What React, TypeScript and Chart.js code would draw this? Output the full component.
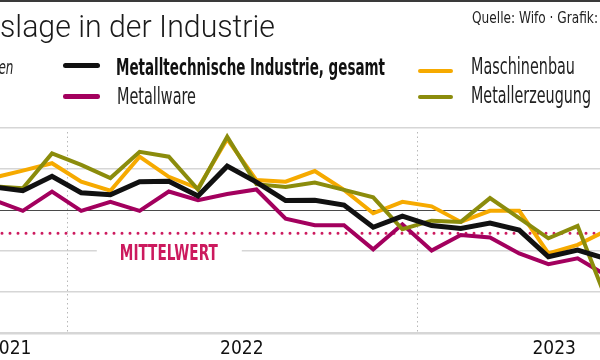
import React, { useEffect, useLayoutEffect, useRef } from "react";
import { Chart, registerables } from "chart.js";

Chart.register(...registerables);

// ---------- data ----------
const months = [
  "Okt 2021", "Nov 2021", "Dez 2021",
  "Jän 2022", "Feb 2022", "Mär 2022", "Apr 2022", "Mai 2022", "Jun 2022",
  "Jul 2022", "Aug 2022", "Sep 2022", "Okt 2022", "Nov 2022", "Dez 2022",
  "Jän 2023", "Feb 2023", "Mär 2023", "Apr 2023", "Mai 2023", "Jun 2023", "Jul 2023",
];
const gesamt = [5.6, 4.7, 8.2, 4.2, 3.7, 6.9, 7.0, 3.4, 10.7, 6.8, 2.3, 2.4, 1.2, -4.2, -1.5, -3.8, -4.5, -3.2, -4.9, -11.4, -9.8, -11.9];
const metallware = [2.4, -0.2, 4.5, -0.2, 2.0, -0.2, 4.5, 2.4, 3.9, 5.0, -2.1, -3.7, -3.7, -9.6, -3.5, -9.9, -6.1, -6.7, -10.6, -13.2, -11.8, -16.0];
const maschinenbau = [7.9, 9.6, 11.4, 6.9, 4.7, 13.0, 8.1, 5.3, 17.3, 7.3, 6.9, 9.5, 4.9, -0.8, 2.0, 0.9, -2.9, -0.2, -0.2, -10.6, -8.5, -5.0];
const metallerzeugung = [5.8, 5.3, 13.8, 11.0, 7.8, 14.2, 13.0, 5.0, 17.9, 6.3, 5.6, 6.7, 4.9, 3.1, -4.7, -2.6, -2.9, 2.9, -2.0, -6.9, -3.9, -22.1];

const yearLabels = ["2021", "2022", "2023"];
const yearLabelPos = [0.55, 8.5, 19.2];
const yearBoundaries = [2.5, 14.5];
const yTicks = [-30, -20, -10, 0, 10, 20];
const MEAN = -5.7;
const MEAN_LABEL = "MITTELWERT";
const MEAN_LABEL_X = 6;
const MEAN_LABEL_Y = -10.5;

// ---------- style ----------
const FONT = "'Liberation Sans Narrow', 'DejaVu Sans Condensed', 'Liberation Sans', sans-serif";
const C_BLACK = "#111111";
const C_MAGENTA = "#A3005E";
const C_ORANGE = "#F6AA00";
const C_OLIVE = "#8B8C0C";
const C_MEAN = "#CC1A5E";

type FitProps = {
  text: string;
  left?: number;
  right?: number;
  baseline: number;
  size: number;
  width: number;
  weight?: number | string;
  italic?: boolean;
  family?: string;
  color?: string;
};

function FitText({ text, left, right, baseline, size, width, weight = 400, italic = false, family = FONT, color = "#111" }: FitProps) {
  const ref = useRef<HTMLSpanElement>(null);
  useLayoutEffect(() => {
    const el = ref.current;
    if (!el) return;
    const fit = () => {
      el.style.transform = "none";
      const w = el.getBoundingClientRect().width;
      if (w > 0) el.style.transform = `scaleX(${width / w})`;
    };
    fit();
    if ((document as any).fonts && (document as any).fonts.ready) {
      (document as any).fonts.ready.then(fit);
    }
  }, [text, width]);
  const style: React.CSSProperties = {
    position: "absolute",
    top: baseline - 0.8465 * size,
    fontFamily: family,
    fontSize: size,
    lineHeight: `${size}px`,
    fontWeight: weight as any,
    fontStyle: italic ? "italic" : "normal",
    color,
    whiteSpace: "nowrap",
    display: "inline-block",
    transformOrigin: right !== undefined ? "right center" : "left center",
  };
  if (right !== undefined) style.right = 600 - right;
  else style.left = left;
  return (
    <span ref={ref} style={style}>
      {text}
    </span>
  );
}

function Swatch({ x1, x2, yc, h, color }: { x1: number; x2: number; yc: number; h: number; color: string }) {
  return (
    <div
      style={{
        position: "absolute",
        left: x1,
        top: yc - h / 2,
        width: x2 - x1,
        height: h,
        background: color,
        borderRadius: h / 2,
      }}
    />
  );
}

const overlayPlugin = {
  id: "overlay",
  beforeDatasetsDraw(chart: any) {
    const { ctx, chartArea, scales } = chart;
    const x = scales.x;
    const y = scales.y;
    ctx.save();
    // year boundaries
    ctx.strokeStyle = "#b8b8b8";
    ctx.lineWidth = 1;
    ctx.setLineDash([1.5, 3]);
    for (const b of yearBoundaries) {
      const px = Math.round(x.getPixelForValue(b)) + 0.5;
      ctx.beginPath();
      ctx.moveTo(px, chartArea.top + 4);
      ctx.lineTo(px, chartArea.bottom);
      ctx.stroke();
    }
    // white box behind label
    const lx = x.getPixelForValue(MEAN_LABEL_X);
    const ly = y.getPixelForValue(MEAN_LABEL_Y);
    ctx.fillStyle = "#ffffff";
    ctx.fillRect(lx - 72, ly - 11, 145, 22);
    // mean dotted line
    const my = y.getPixelForValue(MEAN);
    ctx.setLineDash([0, 8]);
    ctx.lineCap = "round";
    ctx.lineWidth = 3;
    ctx.strokeStyle = C_MEAN;
    ctx.beginPath();
    ctx.moveTo(chartArea.left + 2, my);
    ctx.lineTo(chartArea.right, my);
    ctx.stroke();
    // label
    ctx.setLineDash([]);
    ctx.font = `bold 22px ${FONT}`;
    const w = ctx.measureText(MEAN_LABEL).width;
    const sx = 98 / w;
    ctx.translate(lx, ly);
    ctx.scale(sx, 1);
    ctx.fillStyle = C_MEAN;
    ctx.textAlign = "center";
    ctx.textBaseline = "middle";
    ctx.fillText(MEAN_LABEL, 0, 1);
    ctx.restore();
  },
};

export default function App() {
  const canvasRef = useRef<HTMLCanvasElement>(null);

  useEffect(() => {
    const canvas = canvasRef.current;
    if (!canvas) return;
    const toPts = (arr: number[]) => arr.map((v, i) => ({ x: i, y: v }));
    const chart = new Chart(canvas, {
      type: "line",
      data: {
        labels: months,
        datasets: [
          { label: "Metalltechnische Industrie, gesamt", data: toPts(gesamt), borderColor: C_BLACK, borderWidth: 5, order: 0 },
          { label: "Metallerzeugung", data: toPts(metallerzeugung), borderColor: C_OLIVE, borderWidth: 4, order: 1 },
          { label: "Maschinenbau", data: toPts(maschinenbau), borderColor: C_ORANGE, borderWidth: 4, order: 2 },
          { label: "Metallware", data: toPts(metallware), borderColor: C_MAGENTA, borderWidth: 4, order: 3 },
        ] as any,
      },
      options: {
        animation: false,
        responsive: false,
        devicePixelRatio: 1,
        layout: { padding: { top: 128, left: 0, right: 0, bottom: 0 }, autoPadding: false } as any,
        elements: {
          point: { radius: 0, hoverRadius: 0 },
          line: { tension: 0, fill: false, borderJoinStyle: "miter", borderCapStyle: "butt" },
        },
        plugins: { legend: { display: false }, tooltip: { enabled: false }, title: { display: false } },
        scales: {
          x: {
            type: "linear",
            min: 0.219,
            max: 20.767,
            grid: { display: false, drawTicks: false },
            border: { display: false },
            afterBuildTicks: (scale: any) => {
              scale.ticks = yearLabelPos.map((v) => ({ value: v }));
            },
            afterFit: (scale: any) => {
              scale.height = 27;
              scale.paddingLeft = 0;
              scale.paddingRight = 0;
            },
            ticks: {
              autoSkip: false,
              maxRotation: 0,
              padding: 5,
              color: "#111",
              font: { family: FONT, size: 19 },
              callback: (_v: any, i: number) => yearLabels[i],
            },
          },
          y: {
            type: "linear",
            min: -30,
            max: 20,
            afterBuildTicks: (scale: any) => {
              scale.ticks = yTicks.map((v) => ({ value: v }));
            },
            afterFit: (scale: any) => {
              scale.width = 0;
              scale.paddingTop = 0;
              scale.paddingBottom = 0;
            },
            border: { display: false },
            grid: {
              drawTicks: false,
              color: (c: any) => (c.tick && c.tick.value === 0 ? "#4a4a4a" : "#d6d6d6"),
              lineWidth: (c: any) => (c.tick && c.tick.value === 0 ? 1 : c.tick && c.tick.value === -30 ? 2.5 : 1.5),
            },
            ticks: { display: false },
          },
        },
      } as any,
      plugins: [overlayPlugin],
    });
    return () => chart.destroy();
  }, []);

  return (
    <div style={{ position: "absolute", left: 0, top: 0, width: 600, height: 360, overflow: "hidden", background: "#fff" }}>
      <canvas ref={canvasRef} width={600} height={360} style={{ position: "absolute", left: 0, top: 0, width: 600, height: 360 }} />
      <div style={{ position: "absolute", left: 0, top: 0, width: 600, height: 2, background: "#3a3a3a" }} />
      <FitText text="slage in der Industrie" left={0} baseline={37} size={31} width={275} weight={300} family="Roboto, 'Liberation Sans', sans-serif" color="#1a1a1a" />
      <FitText text="Quelle: Wifo · Grafik:" left={472} baseline={24} size={15} width={126} color="#222" />
      <FitText text="en" right={13} baseline={74} size={20} width={15} italic color="#222" />
      <Swatch x1={63} x2={100} yc={65.8} h={5} color={C_BLACK} />
      <FitText text="Metalltechnische Industrie, gesamt" left={116} baseline={75} size={23} width={269} weight={700} />
      <Swatch x1={63} x2={100} yc={96.3} h={4.5} color={C_MAGENTA} />
      <FitText text="Metallware" left={117} baseline={104} size={23} width={79} color="#222" />
      <Swatch x1={418} x2={453} yc={70.8} h={4.5} color={C_ORANGE} />
      <FitText text="Maschinenbau" left={471} baseline={74} size={23} width={104} color="#222" />
      <Swatch x1={418} x2={453} yc={96.8} h={4.5} color={C_OLIVE} />
      <FitText text="Metallerzeugung" left={471} baseline={103} size={23} width={120} color="#222" />
    </div>
  );
}
